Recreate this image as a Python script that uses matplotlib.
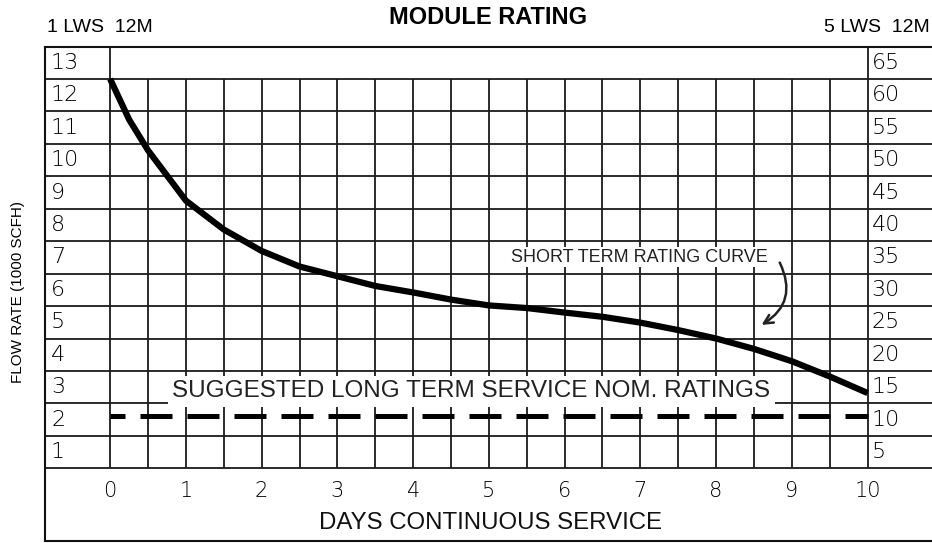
import matplotlib
matplotlib.use('Agg')
import matplotlib.pyplot as plt
import numpy as np

plt.rcParams['font.family'] = ['Liberation Sans', 'DejaVu Sans']

# short term rating curve (x: days, y: 1000 SCFH for 1 LWS)
days = [0, 0.25, 0.5, 1, 1.5, 2, 2.5, 3, 3.5, 4, 4.5, 5, 5.5, 6, 6.5, 7,
        7.5, 8, 8.5, 9, 9.5, 10]
flow = [12.5, 11.25, 10.3, 8.75, 7.86, 7.2, 6.72, 6.42, 6.12, 5.92, 5.7,
        5.52, 5.44, 5.3, 5.17, 4.99, 4.76, 4.5, 4.18, 3.8, 3.33, 2.82]

# suggested long term service rating
long_term = 2.1

left_labels = ['1', '2', '3', '4', '5', '6', '7', '8', '9', '10', '11', '12', '13']
right_labels = ['5', '10', '15', '20', '25', '30', '35', '40', '45', '50', '55', '60', '65']
day_labels = ['0', '1', '2', '3', '4', '5', '6', '7', '8', '9', '10']

fig = plt.figure(figsize=(9.32, 5.43), dpi=100)
ax = fig.add_axes([45 / 932, 2 / 543, 887 / 932, 494.5 / 543])
ax.set_xlim(-0.86, 10.85)
ax.set_ylim(-1.74, 13.5)
ax.set_xticks([])
ax.set_yticks([])
for side in ['left', 'top', 'bottom']:
    ax.spines[side].set_linewidth(1.5)
    ax.spines[side].set_color('#111111')
ax.spines['right'].set_visible(False)

grid_kw = dict(color='#1a1a1a', linewidth=1.3, zorder=1)
# horizontal grid, full width incl. label columns
ax.hlines(np.arange(0.5, 13), -0.86, 10.85, **grid_kw)
# half-day verticals
ax.vlines(np.arange(0.5, 10, 0.5), 0.5, 12.5, **grid_kw)
# column borders at day 0 and day 10
ax.vlines([0, 10], 0.5, 13.5, **grid_kw)

# left / right scale labels
for i, lab in enumerate(left_labels):
    ax.text(-0.78, i + 1, lab, fontsize=16, ha='left', va='center',
            family='DejaVu Sans', fontweight='light', color='black', zorder=3)
for i, lab in enumerate(right_labels):
    ax.text(10.05, i + 1, lab, fontsize=16, ha='left', va='center',
            family='DejaVu Sans', fontweight='light', color='black', zorder=3)
for i, lab in enumerate(day_labels):
    ax.text(i, -0.2, lab, fontsize=15, ha='center', va='center',
            family='DejaVu Sans', fontweight='light', color='black', zorder=3)

# rating curve
ax.plot(days, flow, color='black', linewidth=4.5, solid_capstyle='butt',
        solid_joinstyle='round', zorder=4)

# long term rating, dashed
ax.plot([0, 10], [long_term, long_term], color='black', linewidth=3.6,
        linestyle=(3.4, (6.4, 3.0)), zorder=4)

ax.text(4.77, 2.87, 'SUGGESTED LONG TERM SERVICE NOM. RATINGS', fontsize=17.5,
        ha='center', va='center', color='#222222', zorder=3,
        bbox=dict(facecolor='white', edgecolor='none', pad=3.5))

ax.text(8.68, 7.0, 'SHORT TERM RATING CURVE', fontsize=13, ha='right',
        va='center', color='#222222', zorder=5,
        bbox=dict(facecolor='white', edgecolor='none', pad=1))
ax.annotate('', xy=(8.6, 4.92), xytext=(8.84, 6.84), zorder=5,
            arrowprops=dict(arrowstyle='->', color='#222222', lw=1.8,
                            mutation_scale=16,
                            connectionstyle='arc3,rad=-0.45',
                            shrinkA=0, shrinkB=0))

fig.text(488 / 932, 1 - 18 / 543, 'MODULE RATING', fontsize=17,
         fontweight='bold', ha='center', va='center')
fig.text(47 / 932, 1 - 28 / 543, '1 LWS  12M', fontsize=14,
         ha='left', va='center')
fig.text(930 / 932, 1 - 28 / 543, '5 LWS  12M', fontsize=14,
         ha='right', va='center')
fig.text(18 / 932, 1 - 292 / 543, 'FLOW RATE (1000 SCFH)', fontsize=11,
         rotation=90, ha='center', va='center')
ax.text(5.02, -1.2, 'DAYS CONTINUOUS SERVICE', fontsize=17.3, ha='center',
        va='center', color='#111111')

fig.savefig('out.png', dpi=100)
